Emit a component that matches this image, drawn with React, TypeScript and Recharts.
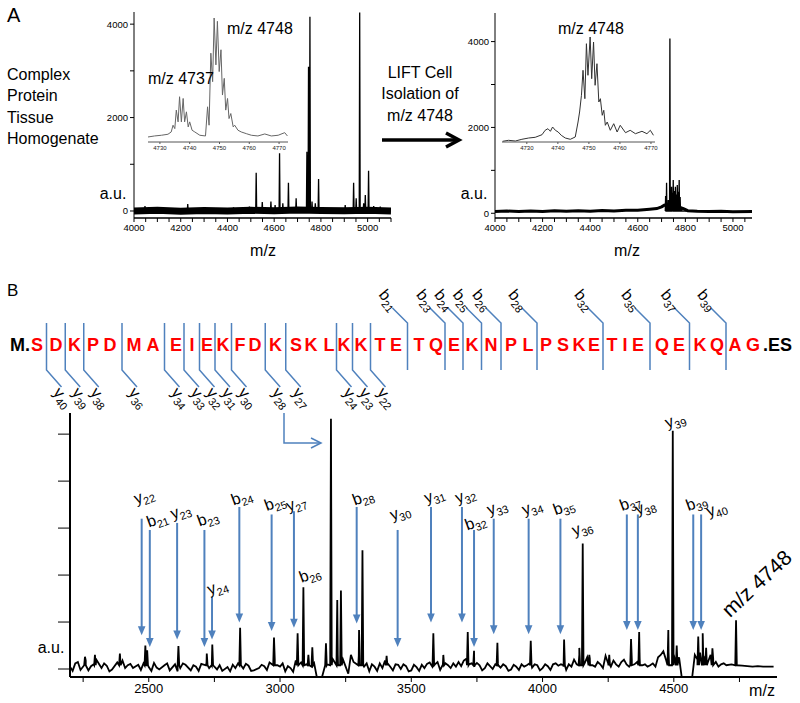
import { LineChart, Line, XAxis, YAxis, ReferenceLine, ReferenceDot } from 'recharts';

const FONT = '"Liberation Sans", Arial, Helvetica, sans-serif';
const BLUE = '#4f81bd';
const RED = '#f00';

// ---------- panel A, left: tissue homogenate ----------
const homogenatePeaks: [number, number][] = [
  [4047, 107], [4230, 150], [4283, 57], [4426, 78], [4494, 93], [4523, 820], [4549, 190],
  [4586, 200], [4604, 128], [4623, 1234], [4637, 164], [4661, 606], [4694, 271],
  [4740, 1269], [4747, 3087], [4753, 4157], [4762, 200], [4776, 164], [4790, 684],
  [4904, 128], [4940, 606], [4951, 271], [4966, 4250], [4983, 164], [4990, 342],
  [5004, 863], [5026, 107], [5054, 93],
];
const homogenateNoise: [number, number][] = [
  [4000, 0], [4100, 15], [4200, -5], [4300, 10], [4400, 0], [4500, 15], [4600, 5],
  [4700, 20], [4800, 10], [4900, 5], [5000, 15], [5100, 0],
];
const homogenateInset: [number, number][] = [
  [4726.0, 5], [4728.2, 6], [4730.5, 6.7], [4732.7, 7.7], [4733.8, 10], [4734.4, 16.7], [4735.0, 13.3],
  [4735.5, 31.7], [4736.1, 20], [4736.6, 45], [4737.2, 20], [4737.8, 43.3], [4738.3, 20], [4738.9, 30],
  [4739.5, 15], [4740.0, 20], [4740.8, 11.7], [4741.7, 10], [4743.4, 6.7], [4745.3, 6],
  [4746.0, 35], [4746.5, 16.7], [4747.1, 88.3], [4747.7, 60], [4748.2, 123.3], [4748.8, 76.7],
  [4749.3, 120], [4749.9, 70], [4750.5, 91.7], [4751.0, 46.7], [4751.6, 63.3], [4752.1, 31.7],
  [4752.7, 43.3], [4753.2, 23.3], [4753.8, 28.3], [4754.6, 15], [4755.1, 16.7], [4756.2, 11.7],
  [4757.3, 10], [4759.0, 8.3], [4760.7, 6.7], [4762.9, 6], [4765.2, 8], [4767.4, 6], [4769.7, 6.7],
  [4771.9, 9.3], [4772.8, 6],
];

// ---------- panel A, right: LIFT cell isolation ----------
const liftPeaks: [number, number][] = [
  [4717, 400], [4721, 713], [4728, 310], [4735, 4070], [4742, 620], [4746, 480], [4749, 775],
  [4753, 520], [4758, 620], [4762, 440], [4766, 660], [4770, 500], [4774, 775], [4778, 380],
  [4784, 155], [4805, 60],
];
const liftNoise: [number, number][] = [
  [4000, 40], [4050, 52], [4100, 44], [4150, 55], [4200, 42], [4250, 56], [4300, 48], [4350, 58],
  [4400, 50], [4450, 62], [4500, 55], [4550, 70], [4600, 68], [4650, 95], [4680, 110], [4700, 150],
  [4712, 190], [4790, 110], [4810, 60], [4850, 48], [4900, 40], [4950, 46], [5000, 38], [5080, 42],
];
const liftInset: [number, number][] = [
  [4722.2, 0.7], [4724.1, 1.7], [4726.3, 1], [4728.4, 2.7], [4730.6, 4], [4732.7, 4.7], [4734.9, 7.3],
  [4735.9, 11.7], [4736.8, 13.3], [4737.6, 10.7], [4738.3, 15], [4739.2, 11.7], [4740.1, 10],
  [4741.1, 6.7], [4742.4, 4], [4744.0, 2.7], [4745.6, 5], [4746.5, 20], [4747.0, 30], [4747.6, 46.7],
  [4748.1, 71.7], [4748.7, 43.3], [4749.2, 98.3], [4749.7, 66.7], [4750.4, 105], [4750.9, 63.3],
  [4751.5, 100], [4752.0, 56.7], [4752.6, 78.3], [4753.2, 40], [4753.7, 43.3], [4754.3, 26.7],
  [4754.8, 31.7], [4755.3, 16.7], [4755.9, 20], [4756.9, 11.7], [4758.0, 18.3], [4759.1, 10],
  [4760.1, 16.7], [4761.8, 9.3], [4763.3, 11.7], [4765.0, 8.3], [4767.1, 10.7], [4768.7, 8.3],
  [4769.8, 11.7], [4770.8, 6.7],
];

// ---------- panel B: MS/MS of m/z 4748 ----------
const sequence = 'SDKPDMAEIEKFDKSKLKKTETQEKNPLPSKETIEQEKQAG'.split('');
const bIons = [21, 23, 24, 25, 26, 28, 32, 35, 37, 39];
const yIons = [40, 39, 38, 36, 34, 33, 32, 31, 30, 28, 27, 24, 23, 22];

const msmsNoise: [number, number][] = [
  [2200, .05], [2220, .12], [2240, -.02], [2260, .18], [2280, .06], [2300, .2], [2320, .02], [2340, .07], [2360, -.01], [2380, .14], [2400, .18],
  [2420, .08], [2440, .02], [2460, .09], [2480, .12], [2500, .04], [2520, .13], [2540, -.01], [2560, .08], [2580, -.03], [2600, .1],
  [2620, .02], [2640, .09], [2660, -.03], [2680, .05], [2700, .11], [2720, .14], [2740, .07], [2760, -.01], [2780, -.04], [2800, .04],
  [2820, .09], [2840, .12], [2860, .01], [2880, .07], [2900, -.03], [2920, .02], [2940, .06], [2960, .14], [2980, .2], [3000, .05],
  [3020, -.05], [3040, .02], [3060, .18], [3080, .14], [3100, .1], [3120, .05], [3140, -.17], [3160, -.17], [3180, .1], [3200, .22],
  [3220, .3], [3240, .2], [3260, -.1], [3280, .15], [3300, .28], [3320, .05], [3340, -.05], [3360, .05], [3380, .12], [3400, .18],
  [3420, .05], [3440, .1], [3460, 0], [3480, .06], [3500, -.03], [3520, .04], [3540, .09], [3560, .11], [3580, .05], [3600, .15],
  [3620, .06], [3640, .08], [3660, .12], [3680, .15], [3700, .18], [3720, .1], [3740, .05], [3760, .08], [3780, .02], [3800, .06],
  [3820, .1], [3840, .03], [3860, .06], [3880, -.01], [3900, .05], [3920, .1], [3940, .08], [3960, .03], [3980, .08], [4000, .02],
  [4020, .06], [4040, .1], [4060, .07], [4080, .05], [4100, .1], [4120, .2], [4140, .3], [4160, .12], [4180, .22], [4200, .05],
  [4220, .1], [4240, .28], [4260, .05], [4280, .1], [4300, .15], [4320, .1], [4340, .2], [4360, .15], [4380, .08], [4400, .05],
  [4420, .12], [4440, .25], [4460, .38], [4480, .35], [4500, .3], [4520, .25], [4530, -.17], [4550, -.17], [4570, -.17], [4580, .3],
  [4600, .35], [4620, .28], [4640, .3], [4660, .15], [4680, .1], [4700, .08], [4720, .1], [4740, .06], [4760, .07], [4780, .06],
  [4800, .05], [4820, .06], [4840, .05], [4860, .05], [4880, .05],
];
// extra fine-grained jitter read between the coarse noise samples
const msmsJitter: [number, number][] = [
  [2210, -.04], [2230, .15], [2270, -.03], [2290, .1], [2330, .12], [2350, -.05], [2410, .02], [2430, .11], [2470, -.02],
  [2510, -.04], [2530, .03], [2570, .12], [2610, -.05], [2630, .12], [2670, .08], [2690, -.04], [2730, .02], [2770, .08],
  [2810, -.05], [2830, .02], [2870, .11], [2890, -.04], [2930, .09], [2950, -.02], [2990, .08], [3010, .12], [3030, .06],
  [3050, -.06], [3130, .12], [3250, .05], [3270, .3], [3330, .12], [3350, .1], [3370, -.04], [3390, .02], [3410, .12],
  [3430, -.03], [3450, .09], [3470, .1], [3490, -.05], [3510, .09], [3530, -.04], [3550, .02], [3570, .14], [3590, .1],
  [3610, -.02], [3630, .12], [3650, .02], [3670, .05], [3690, .06], [3710, .22], [3730, .12], [3750, .13], [3770, -.03],
  [3790, .12], [3810, .0], [3830, .12], [3850, .1], [3870, -.04], [3890, .09], [3910, -.02], [3930, .05], [3950, .12],
  [3970, .1], [3990, -.03], [4010, .1], [4030, -.02], [4050, .12], [4070, .1], [4090, -.02], [4110, .05], [4130, .1],
  [4170, .25], [4190, .08], [4210, .15], [4230, .02], [4250, .12], [4270, .18], [4290, .05], [4310, .2], [4330, .05],
  [4350, .1], [4370, .22], [4390, .1], [4410, .08], [4430, .05], [4450, .3], [4470, .2], [4590, .2], [4610, .25],
  [4630, .15], [4650, .22], [4670, .05], [4690, .12],
];
const msmsPeaks: [number, number][] = [
  [2257, .26], [2295, .3], [2390, .33], [2487, .5], [2494, .4], [2613, .49], [2721, .33], [2742, .52],
  [2848, .88], [2977, .67], [3067, .76], [3089, 1.74], [3108, .3], [3123, .46], [3175, .55], [3194, 5.33],
  [3218, 1.47], [3232, 1.67], [3301, .83], [3314, 2.53], [3406, .28], [3584, .76], [3622, .3], [3715, .79],
  [3739, .39], [3828, .56], [3955, .6], [4082, .63], [4140, .45], [4153, 2.67], [4178, .3], [4254, .3],
  [4337, .64], [4368, .79], [4479, .83], [4496, 5.07], [4511, .5], [4593, .69], [4610, .76], [4623, .45],
  [4647, .44], [4737, 1.04],
];
// arrows: ion, m/z, arrow top, arrow tip (intensity units)
const arrowIons: [string, number, number, number][] = [
  ['y22', 2473, 3.2, .72], ['b21', 2504, 2.96, .47], ['y23', 2608, 3.11, .63], ['b23', 2712, 2.96, .47],
  ['y24', 2741, 1.54, .63], ['b24', 2845, 3.45, .99], ['b25', 2968, 3.29, .81], ['y27', 3053, 3.36, .88],
  ['b28', 3292, 3.45, .97], ['y30', 3448, 2.96, .47], ['y31', 3575, 3.45, .99], ['y32', 3693, 3.45, .99],
  ['b32', 3739, 2.96, .47], ['y33', 3814, 3.2, .74], ['y34', 3947, 3.2, .74], ['b35', 4068, 3.2, .74],
  ['b37', 4321, 3.29, .83], ['y38', 4363, 3.29, .83], ['b39', 4574, 3.29, .83], ['y40', 4604, 3.29, .83],
];
const peakIons: [string, number, number][] = [['b26', 3089, 1.74], ['y36', 4153, 2.67], ['y39', 4496, 5.07]];

// tick positions
const homogenateTicksX = [4000, 4050, 4100, 4150, 4200, 4250, 4300, 4350, 4400, 4450, 4500, 4550, 4600, 4650, 4700, 4750, 4800, 4850, 4900, 4950, 5000, 5050, 5100];
const liftTicksX = [4000, 4050, 4100, 4150, 4200, 4250, 4300, 4350, 4400, 4450, 4500, 4550, 4600, 4650, 4700, 4750, 4800, 4850, 4900, 4950, 5000, 5050];
const aLabelsX = [4000, 4200, 4400, 4600, 4800, 5000];
const aTicksY = [0, 1000, 2000, 3000, 4000];
const aLabelsY = [0, 2000, 4000];
const insetTicks = [4730, 4740, 4750, 4760, 4770];
const msmsTicksX = [2250, 2500, 2750, 3000, 3250, 3500, 3750, 4000, 4250, 4500, 4750];
const msmsLabelsX = [2500, 3000, 3500, 4000, 4500];
const msmsTicksY = [0, 1, 2, 3, 4, 5];

// layout of the sequence line (pixel x of each residue)
const residueX = [37, 56, 74.5, 93, 110, 134, 153, 176, 192, 207, 223, 240, 255, 275.5, 296, 311, 329, 344, 361, 380, 396,
  419, 436, 454, 472, 491, 511, 528, 546, 563, 579, 594, 612, 625, 638, 662, 679, 700, 717, 735, 753];
const labelNudge: Record<string, [number, number]> = {
  y22: [4, -23], b21: [9, -11], y24: [7, -10], b24: [4, -10], y27: [4, -8], b28: [8, -10], y30: [4, -18],
  b32: [3, -8], y38: [9, -8], y40: [17, -6], b26: [8, -13], y36: [1, -16], y39: [4, -11],
};

const toPts = (arr: [number, number][]) => arr.map(([mz, v]) => ({ mz, v }));
const sticks = (peaks: [number, number][], base: number, half: number) =>
  peaks.flatMap(([mz, h]) => [{ mz: mz - half, v: base }, { mz, v: h }, { mz: mz + half, v: base }]);

const msmsTrace = [...toPts(msmsNoise), ...toPts(msmsJitter), ...sticks(msmsPeaks, 0.08, 3)].sort((a, b) => a.mz - b.mz);

const tickFont = { fontSize: 9.5, fill: '#000' };
const aTickX = (v: number) => (aLabelsX.includes(v) ? String(v) : '');
const aTickY = (v: number) => (aLabelsY.includes(v) ? String(v) : '');

function IonText({ x, y, ion, angle, size = 16, anchor = 'middle' }: any) {
  return (
    <text x={x} y={y} transform={`rotate(${angle} ${x} ${y})`} textAnchor={anchor} fontSize={size} fill="#000" fontFamily={FONT}>
      <tspan>{ion[0]}</tspan>
      <tspan fontSize={size * 0.68} dy={size * 0.25}>{ion.slice(1)}</tspan>
    </text>
  );
}

function Arrow({ x1, y1, x2, y2, ion }: any) {
  const [dx, dy] = labelNudge[ion] ?? [5, -12];
  return (
    <g>
      <line x1={x1} y1={y1} x2={x2} y2={y2 - 7} stroke={BLUE} strokeWidth={2} />
      <polygon points={`${x2 - 3.8},${y2 - 9} ${x2 + 3.8},${y2 - 9} ${x2},${y2}`} fill={BLUE} />
      <IonText x={x1 + dx} y={y1 + dy + 5} ion={ion} angle={-20} />
    </g>
  );
}

function AChart({ left, width, plotLeft, plotRight, top, domainX, domainY, ticksX, noise, peaks, noiseWidth }: any) {
  return (
    <div style={{ position: 'absolute', left, top: 0 }}>
      <LineChart width={width} height={260} margin={{ top, right: left + width - plotRight, bottom: 12, left: 0 }}>
        <XAxis dataKey="mz" type="number" domain={domainX} ticks={ticksX} interval={0} tickFormatter={aTickX}
          tickSize={4} height={30} tick={tickFont} axisLine={{ stroke: '#000', strokeWidth: 1.5 }} tickLine={{ stroke: '#000' }} allowDataOverflow />
        <YAxis type="number" domain={domainY} ticks={aTicksY} interval={0} tickFormatter={aTickY} tickSize={4}
          width={plotLeft - left} tick={tickFont} axisLine={{ stroke: '#000' }} tickLine={{ stroke: '#000' }} allowDataOverflow />
        <Line data={toPts(noise)} dataKey="v" stroke="#000" strokeWidth={noiseWidth} dot={false} isAnimationActive={false} />
        <Line data={peaks} dataKey="v" stroke="#000" strokeWidth={1.3} dot={false} isAnimationActive={false} />
      </LineChart>
    </div>
  );
}

function Inset({ left, top, width, plotH, domainX, maxY, data, color }: any) {
  return (
    <div style={{ position: 'absolute', left, top }}>
      <LineChart width={width + 14} height={plotH + 18} margin={{ top: 0, right: 14, bottom: 0, left: 0 }}>
        <XAxis dataKey="mz" type="number" domain={domainX} ticks={insetTicks} interval={0} tickSize={2} height={18}
          tick={{ fontSize: 6, fill: '#222' }} axisLine={{ stroke: '#555' }} tickLine={{ stroke: '#555' }} />
        <YAxis hide type="number" domain={[0, maxY]} />
        <Line data={toPts(data)} dataKey="v" stroke={color} strokeWidth={1} dot={false} isAnimationActive={false} />
      </LineChart>
    </div>
  );
}

function Overlay() {
  const cut = (n: number) => (residueX[n - 1] + residueX[n]) / 2;
  return (
    <svg width={800} height={703} style={{ position: 'absolute', left: 0, top: 0, pointerEvents: 'none' }} fontFamily={FONT}>
      <text x={7} y={22} fontSize={20}>A</text>
      {['Complex', 'Protein', 'Tissue', 'Homogenate'].map((t, i) => (
        <text key={t} x={7} y={79.5 + i * 21.5} fontSize={16}>{t}</text>
      ))}
      {['LIFT Cell', 'Isolation of', 'm/z 4748'].map((t, i) => (
        <text key={t} x={420} y={77.5 + i * 21.5} fontSize={16} textAnchor="middle">{t}</text>
      ))}
      <line x1={382} y1={140} x2={458} y2={140} stroke="#000" strokeWidth={3.5} />
      <polyline points="446,133 459,140 446,147" fill="none" stroke="#000" strokeWidth={3.5} />
      <text x={113} y={198.5} fontSize={16} textAnchor="middle">a.u.</text>
      <text x={474} y={198.5} fontSize={16} textAnchor="middle">a.u.</text>
      <text x={263} y={255.5} fontSize={16} textAnchor="middle">m/z</text>
      <text x={627} y={255.5} fontSize={16} textAnchor="middle">m/z</text>
      <text x={148} y={84} fontSize={16}>m/z 4737</text>
      <text x={227} y={34} fontSize={16}>m/z 4748</text>
      <text x={558} y={34} fontSize={16}>m/z 4748</text>

      <text x={7} y={296} fontSize={17}>B</text>
      <text x={10} y={351} fontSize={18} fontWeight="bold">M.</text>
      {sequence.map((r, i) => (
        <text key={i} x={residueX[i]} y={351} fontSize={18} fontWeight="bold" fill={RED} textAnchor="middle">{r}</text>
      ))}
      <text x={763} y={351} fontSize={18} fontWeight="bold">.ES</text>
      {bIons.map((n) => {
        const x = cut(n);
        return (
          <g key={'b' + n}>
            <polyline points={`${x - 15},${308} ${x},${323} ${x},${370}`} fill="none" stroke={BLUE} strokeWidth={1.5} />
            <IonText x={x - 16} y={311} ion={'b' + n} angle={50} size={16} anchor="end" />
          </g>
        );
      })}
      {yIons.map((n) => {
        const x = cut(41 - n);
        return (
          <g key={'y' + n}>
            <polyline points={`${x},${323} ${x},${370} ${x + 15},${387}`} fill="none" stroke={BLUE} strokeWidth={1.5} />
            <IonText x={x + 6} y={393} ion={'y' + n} angle={50} size={16} anchor="start" />
          </g>
        );
      })}
      <polyline points="284,413 284,443 321,443" fill="none" stroke={BLUE} strokeWidth={1.5} />
      <polyline points="311,438 321,443 311,448" fill="none" stroke={BLUE} strokeWidth={1.5} />
      <text x={51} y={652.5} fontSize={16} textAnchor="middle">a.u.</text>
      <text x={762} y={695.5} fontSize={16} textAnchor="middle">m/z</text>
    </svg>
  );
}

export default function App() {
  return (
    <div style={{ position: 'absolute', left: 0, top: 0, width: 800, height: 703, background: '#fff', fontFamily: FONT, overflow: 'hidden' }}>
      <AChart left={0} width={400} plotLeft={134} plotRight={391} top={12} domainX={[4000, 5100]} domainY={[-150, 4260]}
        ticksX={homogenateTicksX} noise={homogenateNoise} peaks={sticks(homogenatePeaks, 0, 2)} noiseWidth={7} />
      <AChart left={400} width={360} plotLeft={495} plotRight={752} top={13} domainX={[4000, 5080]} domainY={[-110, 4666]}
        ticksX={liftTicksX} noise={liftNoise} peaks={sticks(liftPeaks, 50, 1.5)} noiseWidth={3} />
      <Inset left={148} top={18} width={140} plotH={124} domainX={[4726, 4773]} maxY={123.3} data={homogenateInset} color="#666" />
      <Inset left={502} top={37} width={153} plotH={105} domainX={[4722, 4771.3]} maxY={105} data={liftInset} color="#333" />

      <div style={{ position: 'absolute', left: 0, top: 400 }}>
        <LineChart width={800} height={303} margin={{ top: 13, right: 23, bottom: 0, left: 0 }}>
          <XAxis dataKey="mz" type="number" domain={[2200, 4893]} ticks={msmsTicksX} interval={0}
            tickFormatter={(v: number) => (msmsLabelsX.includes(v) ? String(v) : '')} tickSize={5} height={26}
            tick={{ fontSize: 13, fill: '#000' }} axisLine={{ stroke: '#000', strokeWidth: 2 }} tickLine={{ stroke: '#000' }} allowDataOverflow />
          <YAxis type="number" domain={[-0.17, 5.45]} ticks={msmsTicksY} interval={0} tickFormatter={() => ''} tickSize={12}
            width={70} axisLine={{ stroke: '#000', strokeWidth: 2 }} tickLine={{ stroke: '#000' }} allowDataOverflow />
          <Line data={msmsTrace} dataKey="v" stroke="#000" strokeWidth={1.8} dot={false} isAnimationActive={false} />
          {arrowIons.map(([ion, mz, top, tip]) => (
            <ReferenceLine key={ion} segment={[{ x: mz, y: top }, { x: mz, y: tip }]}
              shape={(p: any) => <Arrow {...p} ion={ion} />} />
          ))}
          {peakIons.map(([ion, mz, h]) => {
            const [dx, dy] = labelNudge[ion];
            return (
              <ReferenceDot key={ion} x={mz} y={h} r={0}
                shape={(p: any) => <IonText x={p.cx + dx} y={p.cy + dy + 5} ion={ion} angle={-20} />} />
            );
          })}
          <ReferenceDot x={4737} y={1.04} r={0}
            shape={(p: any) => (
              <text x={p.cx - 6} y={p.cy - 2} transform={`rotate(-43 ${p.cx - 6} ${p.cy - 2})`} fontSize={21} fontFamily={FONT}>m/z 4748</text>
            )} />
        </LineChart>
      </div>
      <Overlay />
    </div>
  );
}
